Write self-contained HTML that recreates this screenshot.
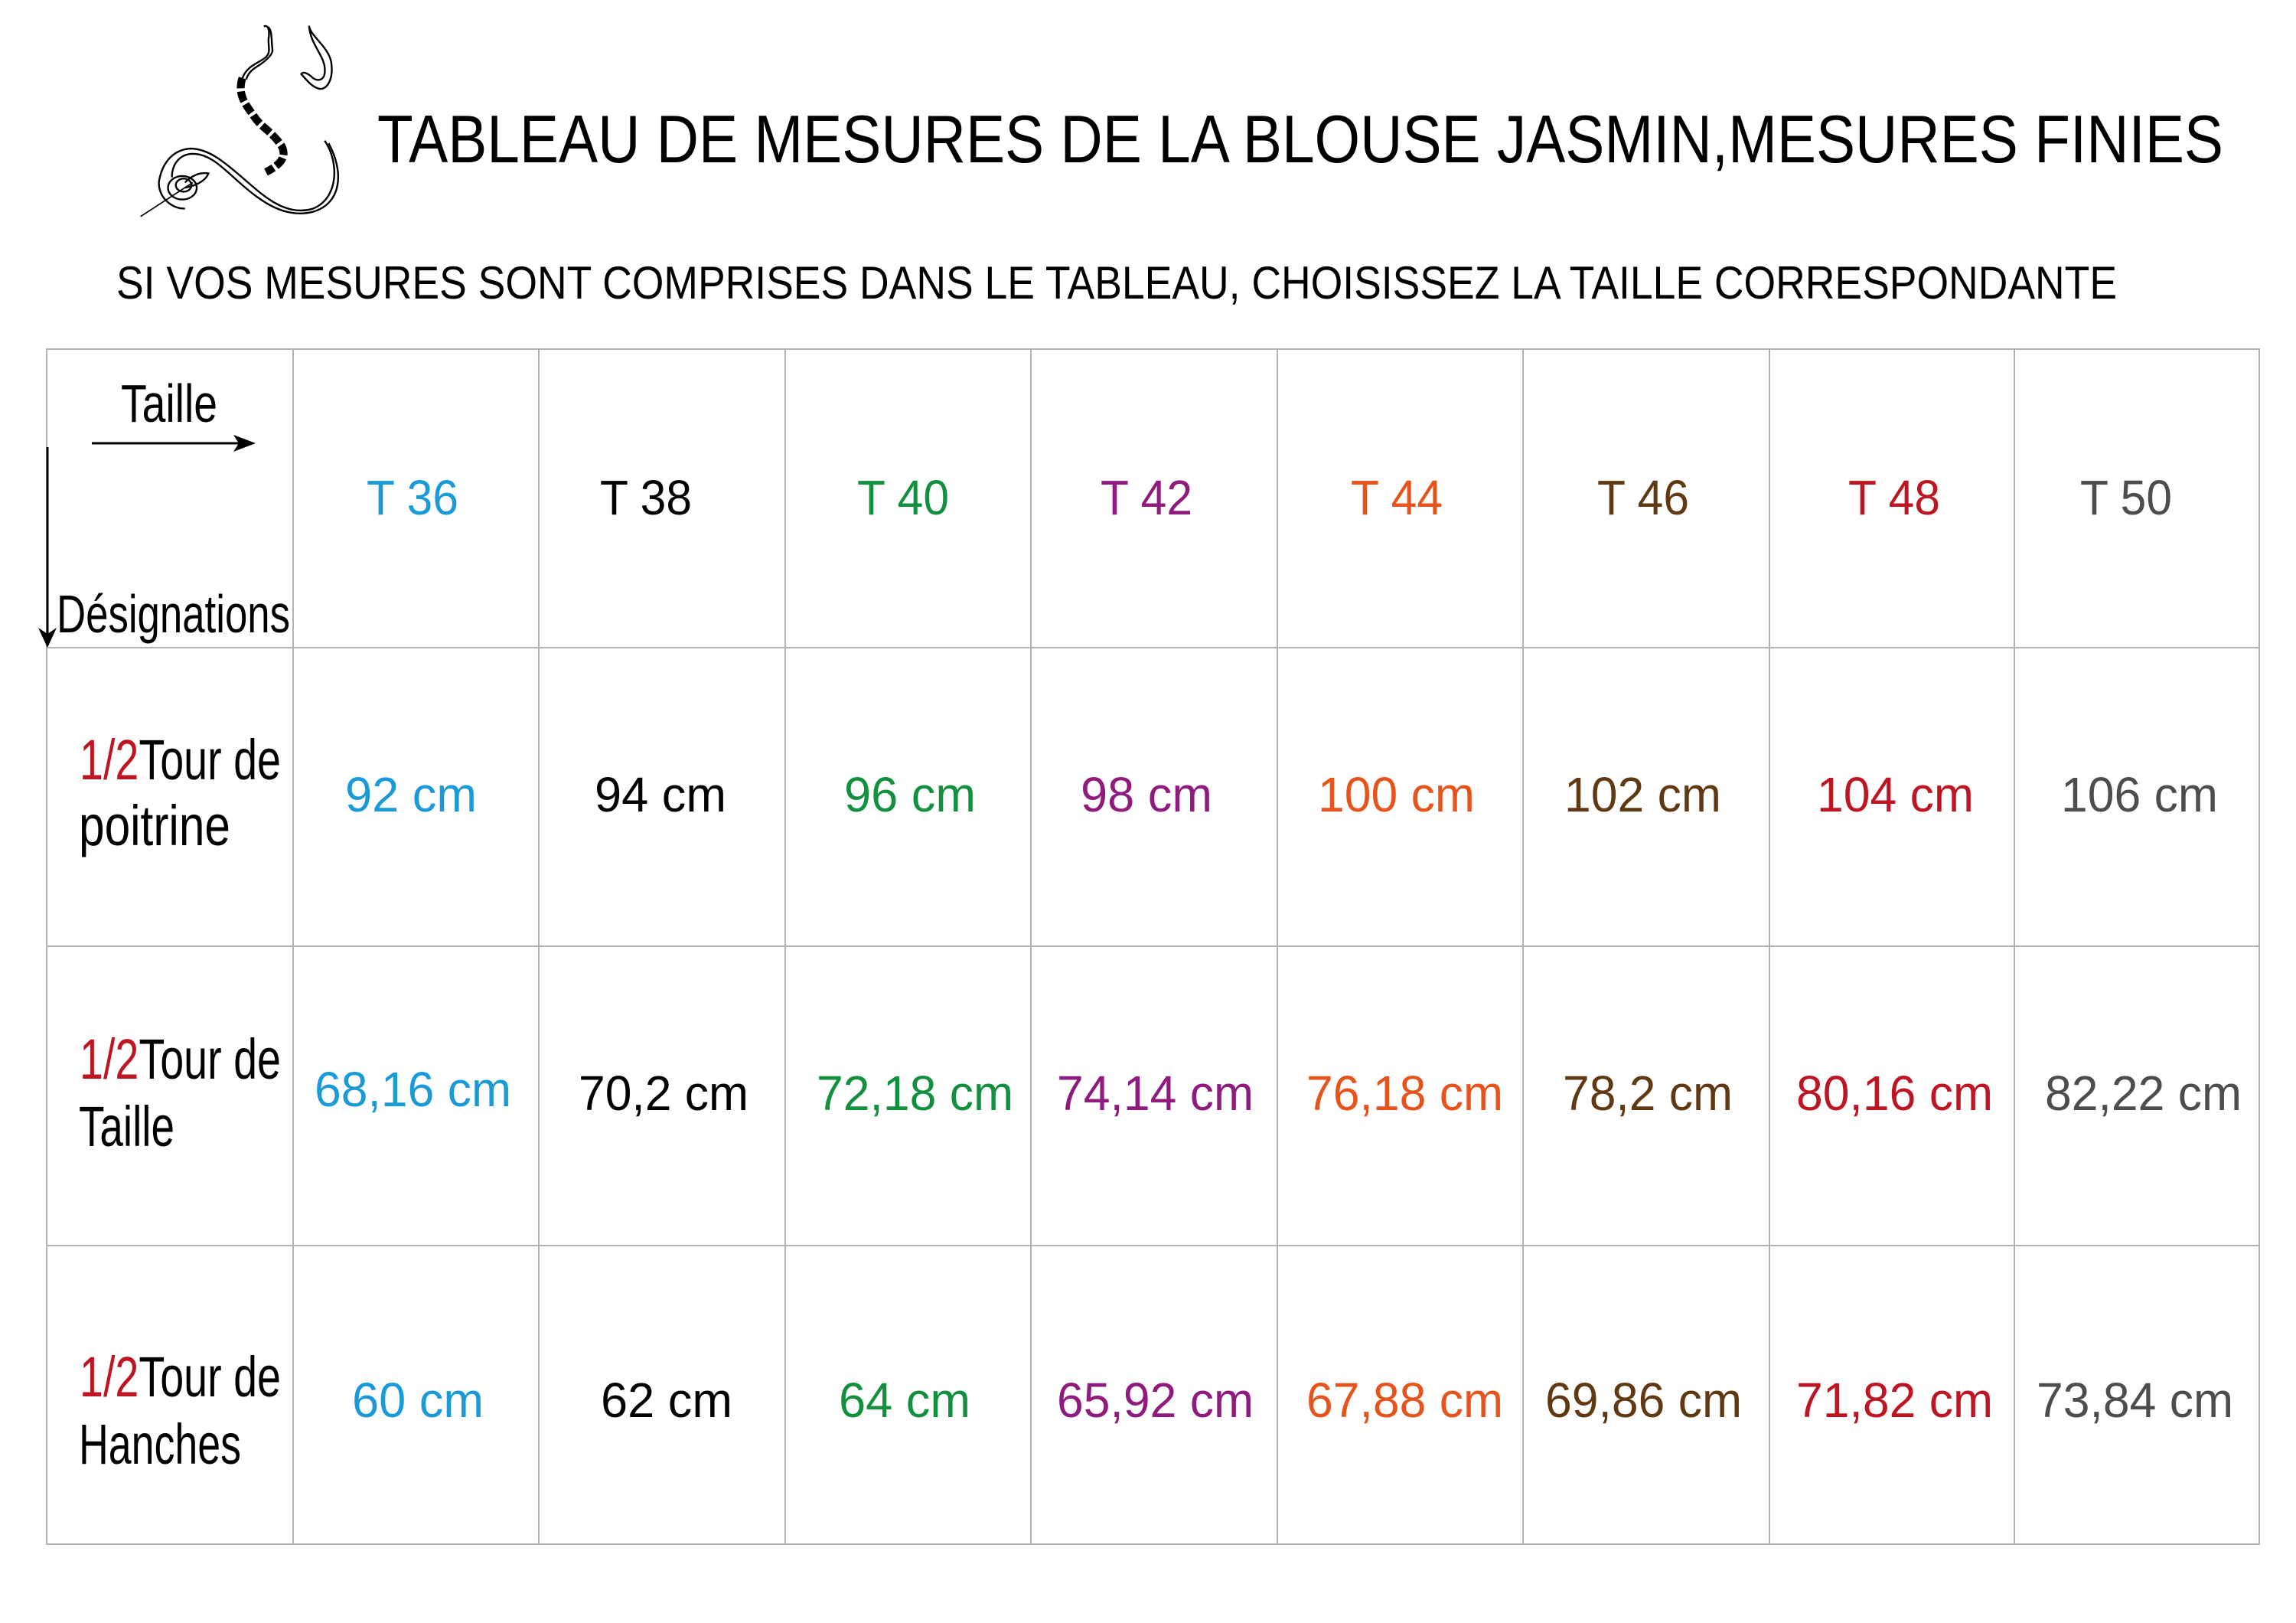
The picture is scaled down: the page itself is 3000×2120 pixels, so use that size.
<!DOCTYPE html>
<html><head><meta charset="utf-8"><style>
html,body{margin:0;padding:0;background:#fff;}
svg{display:block;}
text{font-family:"Liberation Sans",sans-serif;}
</style></head><body>
<svg width="3000" height="2120" viewBox="0 0 3000 2120" xmlns="http://www.w3.org/2000/svg">
<rect width="3000" height="2120" fill="#fff"/>
<!-- logo -->
<g transform="translate(170,20) scale(0.3413)" fill="none" stroke="#000" stroke-width="7">
  <path d="M512,42 C530,35 535,60 530,90 C528,120 540,140 520,160 C490,185 450,190 430,240"/>
  <path d="M528,45 C545,55 540,100 545,130 C548,150 520,175 480,200 C465,210 450,225 445,245"/>
  <path d="M685,40 C690,80 760,120 770,180 C780,250 750,290 720,280 C690,270 670,240 655,225 C665,210 690,230 700,240 C720,255 750,250 745,200 C740,150 690,110 685,40Z"/>
  <path d="M430,240 C410,300 440,340 470,380 C500,430 540,440 580,500 C600,540 580,570 520,600" stroke-width="30" stroke-dasharray="40 12"/>
  <path d="M745,480 C800,560 800,700 700,740 C600,770 520,700 440,630 C360,560 300,510 230,510 C160,515 120,570 110,640 C110,700 160,740 210,740"/>
  <path d="M760,490 C820,600 810,720 700,752 C590,780 500,710 430,650 C360,590 310,530 240,530 C190,530 160,570 160,620"/>
  <ellipse cx="200" cy="660" rx="55" ry="45"/>
  <ellipse cx="205" cy="650" rx="30" ry="25"/>
  <path d="M210,640 C240,610 270,600 300,605 C290,630 260,650 210,660"/>
  <path d="M40,770 L240,640" stroke-width="5"/>
</g>
<!-- title -->
<text x="493" y="212" font-size="88" textLength="2412" lengthAdjust="spacingAndGlyphs">TABLEAU DE MESURES DE LA BLOUSE JASMIN,MESURES FINIES</text>
<text x="152" y="390" font-size="60" textLength="2614" lengthAdjust="spacingAndGlyphs">SI VOS MESURES SONT COMPRISES DANS LE TABLEAU, CHOISISSEZ LA TAILLE CORRESPONDANTE</text>
<!-- grid -->
<g stroke="#b3b3b3" stroke-width="2">
  <rect x="61" y="456" width="2891" height="1561" fill="none"/>
  <line x1="61" y1="846" x2="2952" y2="846"/>
  <line x1="61" y1="1236" x2="2952" y2="1236"/>
  <line x1="61" y1="1627" x2="2952" y2="1627"/>
  <line x1="383" y1="456" x2="383" y2="2017"/>
  <line x1="704" y1="456" x2="704" y2="2017"/>
  <line x1="1026" y1="456" x2="1026" y2="2017"/>
  <line x1="1347" y1="456" x2="1347" y2="2017"/>
  <line x1="1669" y1="456" x2="1669" y2="2017"/>
  <line x1="1990" y1="456" x2="1990" y2="2017"/>
  <line x1="2312" y1="456" x2="2312" y2="2017"/>
  <line x1="2632" y1="456" x2="2632" y2="2017"/>
</g>
<!-- header cell -->
<text x="158" y="551" font-size="70" textLength="126" lengthAdjust="spacingAndGlyphs">Taille</text>
<line x1="120" y1="579" x2="320" y2="579" stroke="#000" stroke-width="3"/>
<path d="M334,579 L305,568 L312,579 L305,590Z" fill="#000"/>
<line x1="62" y1="584" x2="62" y2="832" stroke="#000" stroke-width="3"/>
<path d="M62,846 L50,820 L62,828 L74,820Z" fill="#000"/>
<text x="74" y="826" font-size="70" textLength="305" lengthAdjust="spacingAndGlyphs">Désignations</text>
<!-- row labels -->
<g font-size="74">
<text x="104" y="1018" textLength="263" lengthAdjust="spacingAndGlyphs"><tspan fill="#be1522">1/2</tspan>Tour de</text>
<text x="103" y="1104" textLength="198" lengthAdjust="spacingAndGlyphs">poitrine</text>
<text x="104" y="1409" textLength="263" lengthAdjust="spacingAndGlyphs"><tspan fill="#be1522">1/2</tspan>Tour de</text>
<text x="103" y="1497" textLength="125" lengthAdjust="spacingAndGlyphs">Taille</text>
<text x="104" y="1824" textLength="263" lengthAdjust="spacingAndGlyphs"><tspan fill="#be1522">1/2</tspan>Tour de</text>
<text x="103" y="1912" textLength="212" lengthAdjust="spacingAndGlyphs">Hanches</text>
</g>
<!-- headers -->
<g font-size="64">
<text x="479" y="672" fill="#1a9ad6" textLength="120" lengthAdjust="spacingAndGlyphs">T 36</text>
<text x="784" y="672" fill="#000" textLength="120" lengthAdjust="spacingAndGlyphs">T 38</text>
<text x="1120" y="672" fill="#12903d" textLength="120" lengthAdjust="spacingAndGlyphs">T 40</text>
<text x="1438" y="672" fill="#8e1b7d" textLength="120" lengthAdjust="spacingAndGlyphs">T 42</text>
<text x="1765" y="672" fill="#e6541c" textLength="120" lengthAdjust="spacingAndGlyphs">T 44</text>
<text x="2087" y="672" fill="#603913" textLength="120" lengthAdjust="spacingAndGlyphs">T 46</text>
<text x="2415" y="672" fill="#be1522" textLength="120" lengthAdjust="spacingAndGlyphs">T 48</text>
<text x="2718" y="672" fill="#4d4d4d" textLength="120" lengthAdjust="spacingAndGlyphs">T 50</text>
</g>
<!-- row 1 -->
<g font-size="64">
<text x="451" y="1060" fill="#1a9ad6" textLength="172" lengthAdjust="spacingAndGlyphs">92 cm</text>
<text x="777" y="1060" fill="#000" textLength="172" lengthAdjust="spacingAndGlyphs">94 cm</text>
<text x="1103" y="1060" fill="#12903d" textLength="172" lengthAdjust="spacingAndGlyphs">96 cm</text>
<text x="1412" y="1060" fill="#8e1b7d" textLength="172" lengthAdjust="spacingAndGlyphs">98 cm</text>
<text x="1722" y="1060" fill="#e6541c" textLength="205" lengthAdjust="spacingAndGlyphs">100 cm</text>
<text x="2044" y="1060" fill="#603913" textLength="205" lengthAdjust="spacingAndGlyphs">102 cm</text>
<text x="2374" y="1060" fill="#be1522" textLength="205" lengthAdjust="spacingAndGlyphs">104 cm</text>
<text x="2693" y="1060" fill="#4d4d4d" textLength="205" lengthAdjust="spacingAndGlyphs">106 cm</text>
</g>
<!-- row 2 -->
<g font-size="64">
<text x="411" y="1445" fill="#1a9ad6" textLength="257" lengthAdjust="spacingAndGlyphs">68,16 cm</text>
<text x="756" y="1450" fill="#000" textLength="222" lengthAdjust="spacingAndGlyphs">70,2 cm</text>
<text x="1067" y="1450" fill="#12903d" textLength="257" lengthAdjust="spacingAndGlyphs">72,18 cm</text>
<text x="1381" y="1450" fill="#8e1b7d" textLength="257" lengthAdjust="spacingAndGlyphs">74,14 cm</text>
<text x="1707" y="1450" fill="#e6541c" textLength="257" lengthAdjust="spacingAndGlyphs">76,18 cm</text>
<text x="2042" y="1450" fill="#603913" textLength="222" lengthAdjust="spacingAndGlyphs">78,2 cm</text>
<text x="2347" y="1450" fill="#be1522" textLength="257" lengthAdjust="spacingAndGlyphs">80,16 cm</text>
<text x="2672" y="1450" fill="#4d4d4d" textLength="257" lengthAdjust="spacingAndGlyphs">82,22 cm</text>
</g>
<!-- row 3 -->
<g font-size="64">
<text x="460" y="1851" fill="#1a9ad6" textLength="172" lengthAdjust="spacingAndGlyphs">60 cm</text>
<text x="785" y="1851" fill="#000" textLength="172" lengthAdjust="spacingAndGlyphs">62 cm</text>
<text x="1096" y="1851" fill="#12903d" textLength="172" lengthAdjust="spacingAndGlyphs">64 cm</text>
<text x="1381" y="1851" fill="#8e1b7d" textLength="257" lengthAdjust="spacingAndGlyphs">65,92 cm</text>
<text x="1707" y="1851" fill="#e6541c" textLength="257" lengthAdjust="spacingAndGlyphs">67,88 cm</text>
<text x="2019" y="1851" fill="#603913" textLength="257" lengthAdjust="spacingAndGlyphs">69,86 cm</text>
<text x="2347" y="1851" fill="#be1522" textLength="257" lengthAdjust="spacingAndGlyphs">71,82 cm</text>
<text x="2661" y="1851" fill="#4d4d4d" textLength="257" lengthAdjust="spacingAndGlyphs">73,84 cm</text>
</g>
</svg>
</body></html>
